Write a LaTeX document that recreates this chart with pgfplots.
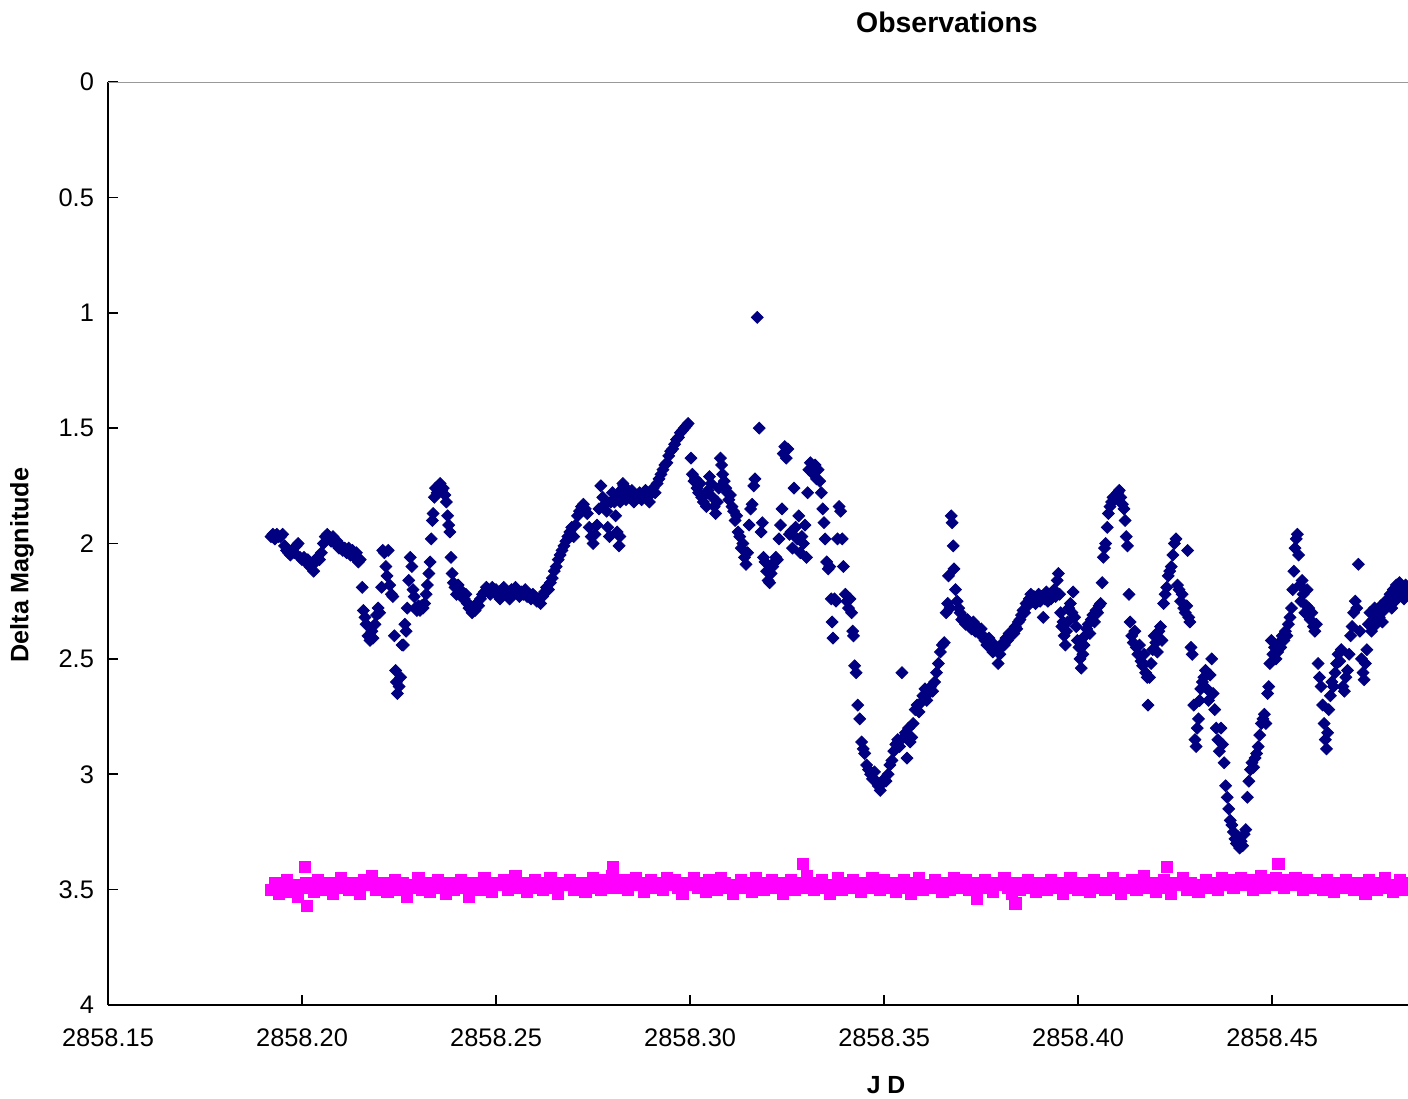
\documentclass[border=0pt]{standalone}
\usepackage{pgfplots}
\pgfplotsset{compat=1.18}
\usepackage{fontspec}
\setmainfont{Liberation Sans}
\definecolor{navyblue}{RGB}{0,0,128}
\definecolor{obsmag}{RGB}{255,0,255}

\begin{document}
\begin{tikzpicture}
\begin{axis}[
    name=ax,
    scale only axis,
    width=650pt, height=461.5pt,
    xmin=2858.15, xmax=2858.485,
    ymin=0, ymax=4,
    y dir=reverse,
    axis lines=left,
    axis line style={-, line width=1pt},
    xtick={2858.15,2858.2,2858.25,2858.3,2858.35,2858.4,2858.45},
    xticklabels={2858.15,2858.20,2858.25,2858.30,2858.35,2858.40,2858.45},
    ytick={0,0.5,1,1.5,2,2.5,3,3.5,4},
    yticklabels={0,0.5,1,1.5,2,2.5,3,3.5,4},
    tick align=inside,
    major tick length=5pt,
    tick style={black, line width=0.8pt},
    tick label style={font=\fontsize{12.7}{15}\selectfont},
    xticklabel style={yshift=-8.5pt},
    yticklabel style={xshift=-3.5pt},
    title={Observations},
    title style={font=\fontsize{14.2}{17}\selectfont\bfseries, at={(axis cs:2858.3662,0)}, anchor=center, yshift=24pt},
    xlabel={J D},
    xlabel style={font=\fontsize{12.4}{15}\selectfont\bfseries, at={(axis cs:2858.3505,4)}, anchor=center, yshift=-40pt},
    ylabel={Delta Magnitude},
    ylabel style={font=\fontsize{12.6}{15}\selectfont\bfseries, at={(axis cs:2858.15,2.093)}, anchor=center, yshift=43pt},
]
% variable star
\addplot[only marks, mark=square*, mark size=2.1pt, color=navyblue, mark options={rotate=45}] coordinates {
(2858.1920,1.97)(2858.1925,1.96)(2858.1930,1.98)(2858.1935,1.96)(2858.1940,1.97)(2858.1945,1.97)(2858.1950,1.96)(2858.1955,2.01)
(2858.1960,2.03)(2858.1965,2.04)(2858.1970,2.05)(2858.1975,2.03)(2858.1980,2.04)(2858.1985,2.01)(2858.1990,2.00)(2858.1995,2.06)
(2858.2000,2.07)(2858.2005,2.06)(2858.2010,2.08)(2858.2015,2.07)(2858.2020,2.10)(2858.2025,2.09)(2858.2030,2.12)(2858.2035,2.08)
(2858.2040,2.06)(2858.2045,2.07)(2858.2050,2.04)(2858.2055,2.00)(2858.2060,1.97)(2858.2065,1.96)(2858.2070,1.98)(2858.2075,1.99)
(2858.2080,1.97)(2858.2085,2.00)(2858.2090,1.99)(2858.2095,2.02)(2858.2100,2.01)(2858.2105,2.03)(2858.2110,2.02)(2858.2115,2.04)
(2858.2120,2.02)(2858.2125,2.05)(2858.2130,2.03)(2858.2135,2.06)(2858.2140,2.04)(2858.2145,2.08)
(2858.2150,2.07)(2858.2155,2.19)(2858.2158,2.29)(2858.2162,2.32)(2858.2165,2.35)(2858.2170,2.40)(2858.2175,2.42)(2858.2180,2.38)
(2858.2183,2.41)(2858.2188,2.35)(2858.2192,2.31)(2858.2196,2.28)(2858.2200,2.30)(2858.2205,2.19)(2858.2208,2.03)(2858.2212,2.04)
(2858.2216,2.10)(2858.2219,2.14)(2858.2222,2.03)(2858.2226,2.18)(2858.2230,2.22)(2858.2234,2.23)(2858.2238,2.40)(2858.2241,2.55)
(2858.2243,2.60)(2858.2246,2.65)(2858.2250,2.62)(2858.2254,2.58)(2858.2258,2.44)(2858.2261,2.44)(2858.2265,2.35)(2858.2268,2.38)
(2858.2271,2.28)(2858.2275,2.16)(2858.2279,2.06)(2858.2283,2.10)(2858.2286,2.20)(2858.2289,2.23)(2858.2292,2.28)(2858.2296,2.29)
(2858.2300,2.27)(2858.2304,2.29)(2858.2308,2.27)(2858.2312,2.28)(2858.2316,2.26)(2858.2320,2.22)(2858.2323,2.18)(2858.2327,2.13)
(2858.2330,2.08)(2858.2333,1.98)(2858.2336,1.90)(2858.2338,1.87)(2858.2341,1.80)(2858.2344,1.76)(2858.2348,1.78)(2858.2352,1.75)
(2858.2356,1.74)(2858.2360,1.77)(2858.2364,1.76)(2858.2368,1.79)(2858.2372,1.82)(2858.2375,1.88)(2858.2378,1.92)(2858.2381,1.95)
(2858.2384,2.06)(2858.2387,2.13)(2858.2390,2.17)(2858.2394,2.19)(2858.2398,2.22)(2858.2402,2.18)(2858.2406,2.20)(2858.2410,2.23)
(2858.2414,2.21)(2858.2418,2.24)(2858.2422,2.22)(2858.2426,2.26)(2858.2430,2.28)(2858.2434,2.27)(2858.2438,2.30)(2858.2442,2.28)
(2858.2446,2.29)(2858.2450,2.26)(2858.2455,2.27)(2858.2460,2.24)(2858.2465,2.22)(2858.2470,2.21)(2858.2475,2.19)(2858.2480,2.20)
(2858.2485,2.22)(2858.2490,2.19)(2858.2495,2.21)(2858.2500,2.20)
(2858.2505,2.22)(2858.2510,2.24)(2858.2515,2.21)(2858.2520,2.19)(2858.2525,2.22)(2858.2530,2.21)(2858.2535,2.24)(2858.2540,2.20)
(2858.2545,2.22)(2858.2550,2.19)(2858.2555,2.21)(2858.2560,2.23)(2858.2565,2.21)(2858.2570,2.22)(2858.2575,2.20)(2858.2580,2.23)
(2858.2585,2.22)(2858.2590,2.24)(2858.2595,2.22)(2858.2600,2.23)(2858.2605,2.25)(2858.2610,2.24)(2858.2615,2.26)(2858.2620,2.23)
(2858.2625,2.21)(2858.2630,2.19)(2858.2635,2.20)(2858.2640,2.17)(2858.2645,2.15)(2858.2650,2.12)(2858.2655,2.10)(2858.2660,2.07)
(2858.2665,2.05)(2858.2670,2.03)(2858.2675,2.01)(2858.2680,1.99)(2858.2685,1.97)(2858.2690,1.95)(2858.2695,1.93)(2858.2700,1.97)
(2858.2705,1.92)(2858.2710,1.88)(2858.2715,1.86)(2858.2720,1.84)(2858.2725,1.83)(2858.2730,1.85)(2858.2735,1.87)(2858.2740,1.93)
(2858.2745,1.97)(2858.2750,2.00)(2858.2755,1.96)(2858.2760,1.92)(2858.2765,1.85)(2858.2770,1.75)(2858.2775,1.80)(2858.2780,1.83)
(2858.2785,1.86)(2858.2788,1.93)(2858.2792,1.97)(2858.2796,1.82)
(2858.2800,1.78)(2858.2805,1.82)(2858.2808,1.88)(2858.2810,1.80)(2858.2812,1.95)(2858.2815,1.78)(2858.2817,2.01)(2858.2819,1.97)
(2858.2820,1.82)(2858.2825,1.79)(2858.2827,1.74)(2858.2829,1.75)(2858.2830,1.76)(2858.2835,1.81)(2858.2840,1.78)(2858.2845,1.80)
(2858.2850,1.77)(2858.2855,1.82)(2858.2860,1.79)(2858.2865,1.80)(2858.2870,1.78)(2858.2875,1.81)(2858.2880,1.79)(2858.2885,1.77)
(2858.2890,1.80)(2858.2895,1.82)(2858.2900,1.78)(2858.2905,1.76)(2858.2910,1.78)(2858.2915,1.74)(2858.2920,1.72)(2858.2925,1.70)
(2858.2930,1.68)(2858.2935,1.66)(2858.2940,1.65)(2858.2945,1.62)(2858.2950,1.60)(2858.2955,1.59)(2858.2960,1.57)(2858.2965,1.55)
(2858.2970,1.54)(2858.2975,1.52)(2858.2980,1.51)(2858.2985,1.50)(2858.2990,1.49)(2858.2995,1.48)
(2858.3002,1.63)(2858.3006,1.70)(2858.3010,1.73)(2858.3014,1.72)(2858.3018,1.76)(2858.3022,1.78)(2858.3026,1.74)(2858.3030,1.80)
(2858.3034,1.82)(2858.3038,1.79)(2858.3042,1.84)(2858.3046,1.77)(2858.3050,1.71)(2858.3054,1.74)(2858.3058,1.80)(2858.3062,1.84)
(2858.3066,1.87)(2858.3070,1.82)(2858.3074,1.76)(2858.3078,1.63)(2858.3081,1.66)(2858.3084,1.70)(2858.3088,1.73)(2858.3092,1.76)
(2858.3096,1.78)(2858.3100,1.81)(2858.3104,1.79)(2858.3108,1.84)(2858.3112,1.86)(2858.3116,1.90)(2858.3120,1.88)(2858.3124,1.95)
(2858.3128,1.97)(2858.3132,2.02)(2858.3136,2.00)(2858.3140,2.06)(2858.3144,2.09)(2858.3148,2.04)(2858.3152,1.92)(2858.3156,1.85)
(2858.3160,1.83)(2858.3164,1.75)(2858.3167,1.72)(2858.3173,1.02)(2858.3178,1.50)(2858.3183,1.95)(2858.3186,1.91)(2858.3189,2.06)
(2858.3193,2.08)(2858.3197,2.12)(2858.3201,2.16)(2858.3205,2.17)(2858.3209,2.13)(2858.3213,2.10)(2858.3217,2.08)(2858.3221,2.06)
(2858.3225,2.07)(2858.3229,1.98)(2858.3233,1.92)(2858.3237,1.85)(2858.3240,1.61)(2858.3244,1.58)(2858.3248,1.63)(2858.3252,1.59)
(2858.3256,1.96)(2858.3260,1.95)(2858.3264,2.02)(2858.3268,1.76)(2858.3272,1.93)(2858.3276,1.98)(2858.3280,1.88)(2858.3284,2.04)
(2858.3288,1.97)(2858.3292,2.00)(2858.3296,1.92)(2858.3300,2.06)(2858.3303,1.78)(2858.3306,1.68)(2858.3310,1.65)(2858.3314,1.67)
(2858.3318,1.70)(2858.3322,1.66)(2858.3326,1.72)(2858.3330,1.68)(2858.3334,1.73)(2858.3338,1.78)(2858.3342,1.85)(2858.3345,1.91)
(2858.3348,1.98)(2858.3352,2.08)(2858.3356,2.11)(2858.3360,2.10)(2858.3364,2.24)(2858.3366,2.34)(2858.3368,2.41)(2858.3372,2.24)
(2858.3376,2.25)(2858.3380,1.98)(2858.3384,1.84)(2858.3388,1.86)(2858.3392,1.98)(2858.3395,2.10)(2858.3400,2.22)(2858.3404,2.25)
(2858.3408,2.28)(2858.3412,2.24)(2858.3416,2.30)(2858.3419,2.38)(2858.3421,2.40)(2858.3424,2.53)(2858.3428,2.56)(2858.3432,2.70)
(2858.3437,2.76)(2858.3442,2.86)(2858.3446,2.89)(2858.3450,2.91)(2858.3455,2.96)(2858.3460,2.98)(2858.3465,3.00)(2858.3470,3.02)
(2858.3475,2.99)(2858.3480,3.03)(2858.3485,3.05)(2858.3490,3.07)(2858.3495,3.04)(2858.3500,3.02)(2858.3505,3.03)(2858.3510,3.00)
(2858.3515,2.96)(2858.3520,2.94)(2858.3525,2.90)(2858.3530,2.87)(2858.3535,2.85)(2858.3540,2.88)(2858.3546,2.56)(2858.3550,2.84)
(2858.3555,2.82)(2858.3559,2.93)(2858.3563,2.80)(2858.3567,2.86)(2858.3571,2.84)(2858.3575,2.78)(2858.3580,2.72)(2858.3585,2.70)
(2858.3590,2.73)(2858.3595,2.69)(2858.3600,2.66)(2858.3605,2.63)(2858.3610,2.68)(2858.3615,2.65)(2858.3620,2.62)(2858.3625,2.64)
(2858.3630,2.60)(2858.3635,2.56)(2858.3640,2.52)(2858.3645,2.47)(2858.3650,2.44)(2858.3655,2.43)(2858.3660,2.30)(2858.3664,2.26)
(2858.3666,2.14)(2858.3670,2.28)(2858.3673,1.88)(2858.3675,1.91)(2858.3678,2.01)(2858.3680,2.11)(2858.3684,2.20)(2858.3688,2.25)
(2858.3692,2.28)(2858.3696,2.30)(2858.3700,2.33)(2858.3705,2.32)(2858.3710,2.35)(2858.3715,2.33)(2858.3720,2.36)(2858.3725,2.37)
(2858.3730,2.34)(2858.3735,2.38)(2858.3740,2.36)(2858.3745,2.39)(2858.3750,2.37)(2858.3755,2.40)(2858.3760,2.42)(2858.3765,2.44)
(2858.3770,2.41)(2858.3775,2.45)(2858.3780,2.47)(2858.3785,2.44)(2858.3790,2.46)(2858.3794,2.52)(2858.3798,2.48)
(2858.3802,2.45)(2858.3806,2.43)(2858.3810,2.44)(2858.3814,2.41)(2858.3818,2.42)(2858.3822,2.39)(2858.3826,2.40)(2858.3830,2.38)
(2858.3834,2.39)(2858.3838,2.36)(2858.3842,2.37)(2858.3846,2.34)(2858.3850,2.33)(2858.3854,2.31)(2858.3858,2.29)(2858.3862,2.30)
(2858.3866,2.26)(2858.3870,2.27)(2858.3874,2.24)(2858.3878,2.22)(2858.3882,2.25)(2858.3886,2.23)(2858.3890,2.26)(2858.3894,2.24)
(2858.3898,2.22)(2858.3902,2.25)(2858.3906,2.23)(2858.3910,2.32)(2858.3914,2.24)(2858.3918,2.21)(2858.3922,2.25)(2858.3926,2.23)
(2858.3930,2.24)(2858.3934,2.22)(2858.3938,2.20)(2858.3942,2.23)(2858.3946,2.16)(2858.3949,2.13)(2858.3952,2.22)(2858.3955,2.30)
(2858.3958,2.36)(2858.3961,2.34)(2858.3964,2.40)(2858.3967,2.44)(2858.3970,2.38)(2858.3973,2.34)(2858.3976,2.28)(2858.3980,2.26)
(2858.3984,2.30)(2858.3987,2.21)(2858.3991,2.32)(2858.3995,2.36)(2858.3998,2.42)(2858.4002,2.45)(2858.4005,2.50)(2858.4008,2.54)
(2858.4012,2.48)(2858.4015,2.44)(2858.4018,2.40)(2858.4022,2.37)(2858.4026,2.35)(2858.4030,2.39)(2858.4034,2.33)(2858.4038,2.31)
(2858.4042,2.34)(2858.4046,2.29)(2858.4050,2.30)(2858.4054,2.27)(2858.4058,2.26)(2858.4062,2.17)(2858.4065,2.06)(2858.4068,2.02)
(2858.4071,2.00)(2858.4075,1.93)(2858.4078,1.87)(2858.4082,1.84)(2858.4086,1.82)(2858.4090,1.80)(2858.4094,1.81)(2858.4098,1.79)
(2858.4102,1.78)(2858.4106,1.77)(2858.4110,1.80)(2858.4114,1.83)(2858.4118,1.85)(2858.4121,1.90)(2858.4124,1.97)(2858.4127,2.01)
(2858.4131,2.22)(2858.4134,2.34)(2858.4138,2.40)(2858.4142,2.43)(2858.4146,2.38)(2858.4150,2.45)(2858.4154,2.48)(2858.4158,2.44)
(2858.4162,2.51)(2858.4166,2.53)(2858.4170,2.48)(2858.4174,2.56)(2858.4178,2.58)(2858.4180,2.70)(2858.4184,2.58)(2858.4188,2.52)
(2858.4192,2.46)(2858.4196,2.40)(2858.4200,2.43)(2858.4204,2.47)(2858.4208,2.38)(2858.4212,2.36)(2858.4216,2.42)(2858.4220,2.26)
(2858.4224,2.22)(2858.4228,2.19)(2858.4232,2.14)(2858.4236,2.12)(2858.4240,2.10)(2858.4244,2.05)(2858.4248,2.00)(2858.4252,1.98)
(2858.4256,2.18)(2858.4260,2.20)(2858.4264,2.25)(2858.4268,2.22)(2858.4272,2.28)(2858.4276,2.30)(2858.4280,2.27)(2858.4282,2.03)
(2858.4285,2.32)(2858.4288,2.34)(2858.4291,2.45)(2858.4294,2.48)
(2858.4298,2.70)(2858.4301,2.85)(2858.4304,2.88)(2858.4307,2.80)(2858.4310,2.76)(2858.4313,2.68)(2858.4316,2.63)(2858.4320,2.60)
(2858.4324,2.58)(2858.4328,2.55)(2858.4332,2.63)(2858.4336,2.68)(2858.4340,2.57)(2858.4344,2.50)(2858.4348,2.65)(2858.4352,2.72)
(2858.4356,2.80)(2858.4360,2.85)(2858.4364,2.90)(2858.4368,2.80)(2858.4372,2.87)(2858.4376,2.95)(2858.4380,3.05)(2858.4384,3.10)
(2858.4388,3.15)(2858.4392,3.20)(2858.4396,3.22)(2858.4400,3.25)(2858.4404,3.28)(2858.4408,3.30)(2858.4412,3.27)(2858.4416,3.32)
(2858.4420,3.29)(2858.4424,3.31)(2858.4428,3.26)(2858.4432,3.24)(2858.4436,3.10)(2858.4440,3.03)(2858.4444,2.98)(2858.4448,2.95)
(2858.4452,2.97)(2858.4456,2.93)(2858.4460,2.91)(2858.4464,2.88)(2858.4468,2.83)(2858.4472,2.78)(2858.4476,2.76)(2858.4480,2.74)
(2858.4484,2.78)(2858.4488,2.65)(2858.4491,2.62)(2858.4494,2.52)(2858.4498,2.42)(2858.4502,2.48)(2858.4506,2.45)(2858.4510,2.50)
(2858.4514,2.47)(2858.4518,2.43)(2858.4522,2.45)(2858.4526,2.40)(2858.4530,2.42)(2858.4534,2.38)(2858.4538,2.40)(2858.4542,2.35)
(2858.4546,2.32)(2858.4550,2.28)(2858.4553,2.20)(2858.4556,2.12)(2858.4559,2.02)(2858.4562,1.98)(2858.4565,1.96)(2858.4568,2.05)
(2858.4571,2.18)(2858.4574,2.25)(2858.4577,2.16)(2858.4580,2.22)(2858.4584,2.30)(2858.4588,2.27)
(2858.4590,2.20)(2858.4594,2.28)(2858.4598,2.33)(2858.4602,2.30)(2858.4606,2.36)(2858.4610,2.38)(2858.4614,2.35)(2858.4618,2.52)
(2858.4622,2.58)(2858.4626,2.62)(2858.4630,2.70)(2858.4634,2.78)(2858.4637,2.85)(2858.4640,2.89)(2858.4643,2.82)(2858.4646,2.72)
(2858.4650,2.66)(2858.4654,2.60)(2858.4658,2.62)(2858.4662,2.56)(2858.4666,2.52)(2858.4670,2.48)(2858.4674,2.51)(2858.4678,2.46)
(2858.4682,2.62)(2858.4686,2.64)(2858.4690,2.58)(2858.4694,2.55)(2858.4698,2.48)(2858.4702,2.40)(2858.4706,2.36)(2858.4710,2.30)
(2858.4714,2.25)(2858.4718,2.28)(2858.4722,2.09)(2858.4726,2.38)(2858.4730,2.50)(2858.4734,2.56)(2858.4737,2.59)(2858.4740,2.52)
(2858.4744,2.46)(2858.4748,2.35)(2858.4752,2.30)(2858.4756,2.38)(2858.4760,2.33)(2858.4764,2.28)(2858.4768,2.35)(2858.4772,2.30)
(2858.4776,2.32)(2858.4780,2.27)(2858.4784,2.34)(2858.4788,2.29)(2858.4792,2.25)(2858.4796,2.27)(2858.4800,2.24)(2858.4804,2.22)
(2858.4808,2.28)(2858.4812,2.20)(2858.4816,2.25)(2858.4820,2.18)(2858.4824,2.23)(2858.4828,2.17)(2858.4832,2.21)(2858.4836,2.19)
(2858.4840,2.24)(2858.4844,2.18)(2858.4848,2.22)(2858.4852,2.20)
};
% comparison star
\addplot[only marks, mark=square*, mark size=2.8pt, color=obsmag] coordinates {
(2858.192,3.50)(2858.193,3.47)(2858.194,3.52)(2858.195,3.49)(2858.196,3.46)(2858.197,3.51)(2858.198,3.48)(2858.199,3.53)(2858.200,3.49)(2858.201,3.47)
(2858.202,3.48)(2858.203,3.51)(2858.204,3.46)(2858.205,3.49)(2858.206,3.50)(2858.207,3.47)(2858.208,3.52)(2858.209,3.48)(2858.210,3.45)(2858.211,3.49)
(2858.212,3.50)(2858.213,3.47)(2858.214,3.49)(2858.215,3.52)(2858.216,3.46)(2858.217,3.48)(2858.218,3.44)(2858.219,3.50)(2858.220,3.49)(2858.221,3.47)
(2858.222,3.51)(2858.223,3.48)(2858.224,3.46)(2858.225,3.50)(2858.226,3.47)(2858.227,3.53)(2858.228,3.48)(2858.229,3.49)(2858.230,3.45)(2858.231,3.50)
(2858.232,3.47)(2858.233,3.51)(2858.234,3.48)(2858.235,3.46)(2858.236,3.49)(2858.237,3.52)(2858.238,3.47)(2858.239,3.50)(2858.240,3.48)(2858.241,3.46)
(2858.242,3.49)(2858.243,3.53)(2858.244,3.47)(2858.245,3.48)(2858.246,3.50)(2858.247,3.45)(2858.248,3.49)(2858.249,3.51)(2858.250,3.47)(2858.251,3.48)
(2858.252,3.46)(2858.253,3.50)(2858.254,3.48)(2858.255,3.44)(2858.256,3.49)(2858.257,3.47)(2858.258,3.51)(2858.259,3.48)(2858.260,3.46)(2858.261,3.49)
(2858.262,3.50)(2858.263,3.47)(2858.264,3.45)(2858.265,3.49)(2858.266,3.52)(2858.267,3.47)(2858.268,3.48)(2858.269,3.46)(2858.270,3.50)(2858.271,3.48)
(2858.272,3.47)(2858.273,3.51)(2858.274,3.49)(2858.275,3.45)(2858.276,3.48)(2858.277,3.50)(2858.278,3.46)(2858.279,3.49)(2858.280,3.44)(2858.281,3.47)
(2858.282,3.49)(2858.283,3.46)(2858.284,3.50)(2858.285,3.48)(2858.286,3.45)(2858.287,3.47)(2858.288,3.51)(2858.289,3.48)(2858.290,3.46)(2858.291,3.49)
(2858.292,3.47)(2858.293,3.50)(2858.294,3.45)(2858.295,3.48)(2858.296,3.46)(2858.297,3.49)(2858.298,3.52)(2858.299,3.47)(2858.300,3.48)(2858.301,3.45)
(2858.302,3.49)(2858.303,3.47)(2858.304,3.51)(2858.305,3.46)(2858.306,3.48)(2858.307,3.50)(2858.308,3.45)(2858.309,3.47)(2858.310,3.49)(2858.311,3.52)
(2858.312,3.48)(2858.313,3.46)(2858.314,3.49)(2858.315,3.47)(2858.316,3.51)(2858.317,3.45)(2858.318,3.48)(2858.319,3.50)(2858.320,3.47)(2858.321,3.46)
(2858.322,3.49)(2858.323,3.47)(2858.324,3.52)(2858.325,3.48)(2858.326,3.46)(2858.327,3.50)(2858.328,3.47)(2858.329,3.49)(2858.330,3.44)(2858.331,3.48)
(2858.332,3.50)(2858.333,3.47)(2858.334,3.46)(2858.335,3.49)(2858.336,3.52)(2858.337,3.48)(2858.338,3.45)(2858.339,3.50)(2858.340,3.47)(2858.341,3.49)
(2858.342,3.46)(2858.343,3.48)(2858.344,3.51)(2858.345,3.47)(2858.346,3.49)(2858.347,3.45)(2858.348,3.48)(2858.349,3.50)(2858.350,3.46)(2858.351,3.49)
(2858.352,3.47)(2858.353,3.51)(2858.354,3.48)(2858.355,3.46)(2858.356,3.49)(2858.357,3.52)(2858.358,3.47)(2858.359,3.45)(2858.360,3.50)(2858.361,3.48)
(2858.362,3.49)(2858.363,3.46)(2858.364,3.48)(2858.365,3.51)(2858.366,3.47)(2858.367,3.50)(2858.368,3.45)(2858.369,3.49)(2858.370,3.48)(2858.371,3.46)
(2858.372,3.50)(2858.373,3.47)(2858.374,3.53)(2858.375,3.48)(2858.376,3.46)(2858.377,3.49)(2858.378,3.51)(2858.379,3.47)(2858.380,3.48)(2858.381,3.45)
(2858.382,3.49)(2858.383,3.52)(2858.384,3.47)(2858.385,3.50)(2858.386,3.48)(2858.387,3.46)(2858.388,3.49)(2858.389,3.51)(2858.390,3.47)(2858.391,3.48)
(2858.392,3.50)(2858.393,3.46)(2858.394,3.49)(2858.395,3.47)(2858.396,3.52)(2858.397,3.48)(2858.398,3.45)(2858.399,3.49)(2858.400,3.50)(2858.401,3.47)
(2858.402,3.48)(2858.403,3.51)(2858.404,3.46)(2858.405,3.49)(2858.406,3.47)(2858.407,3.50)(2858.408,3.48)(2858.409,3.45)(2858.410,3.49)(2858.411,3.52)
(2858.412,3.47)(2858.413,3.49)(2858.414,3.46)(2858.415,3.50)(2858.416,3.48)(2858.417,3.44)(2858.418,3.49)(2858.419,3.47)(2858.420,3.51)(2858.421,3.48)
(2858.422,3.46)(2858.423,3.49)(2858.424,3.52)(2858.425,3.47)(2858.426,3.48)(2858.427,3.45)(2858.428,3.50)(2858.429,3.47)(2858.430,3.49)(2858.431,3.51)
(2858.432,3.48)(2858.433,3.46)(2858.434,3.49)(2858.435,3.47)(2858.436,3.50)(2858.437,3.45)(2858.438,3.48)(2858.439,3.46)(2858.440,3.49)(2858.441,3.47)
(2858.442,3.45)(2858.443,3.48)(2858.444,3.46)(2858.445,3.50)(2858.446,3.47)(2858.447,3.44)(2858.448,3.49)(2858.449,3.46)(2858.450,3.48)(2858.451,3.45)
(2858.452,3.47)(2858.453,3.49)(2858.454,3.46)(2858.455,3.48)(2858.456,3.45)(2858.457,3.47)(2858.458,3.50)(2858.459,3.46)(2858.460,3.48)(2858.461,3.49)
(2858.462,3.47)(2858.463,3.50)(2858.464,3.46)(2858.465,3.48)(2858.466,3.51)(2858.467,3.47)(2858.468,3.49)(2858.469,3.46)(2858.470,3.48)(2858.471,3.50)
(2858.472,3.47)(2858.473,3.49)(2858.474,3.52)(2858.475,3.46)(2858.476,3.48)(2858.477,3.50)(2858.478,3.47)(2858.479,3.45)(2858.480,3.49)(2858.481,3.51)
(2858.482,3.48)(2858.483,3.46)(2858.484,3.50)(2858.485,3.47)
(2858.2008,3.40)(2858.2013,3.57)(2858.2802,3.40)(2858.3291,3.39)(2858.3740,3.54)(2858.3838,3.56)(2858.4229,3.40)(2858.4516,3.39)
};
\draw[gray!80, line width=1pt] (axis cs:2858.15,0) -- (axis cs:2858.485,0);
\end{axis}
\pgfresetboundingbox
\path ([shift={(-54pt,-47pt)}]ax.south west) rectangle ([shift={(0pt,41pt)}]ax.north east);
\end{tikzpicture}
\end{document}
